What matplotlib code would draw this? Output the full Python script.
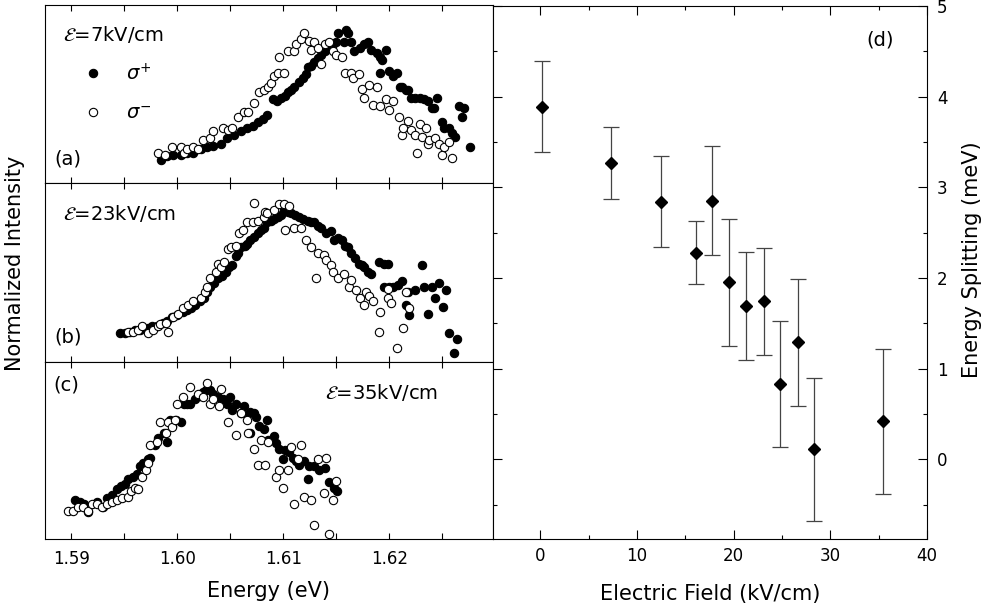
import matplotlib
matplotlib.use('Agg')
import matplotlib.pyplot as plt
from matplotlib.ticker import MultipleLocator, FormatStrFormatter

# ---- panel (a): E = 7 kV/cm ----
energy_a_plus = [1.5985, 1.5990, 1.5996, 1.6003, 1.6009, 1.6015, 1.6022, 1.6028, 1.6034, 1.6041,
                 1.6047, 1.6053, 1.6060, 1.6066, 1.6071, 1.6076, 1.6081, 1.6085, 1.6090, 1.6094,
                 1.6098, 1.6102, 1.6104, 1.6107, 1.6110, 1.6115, 1.6119, 1.6121, 1.6123, 1.6126,
                 1.6129, 1.6133, 1.6136, 1.6139, 1.6143, 1.6147, 1.6150, 1.6152, 1.6157, 1.6159,
                 1.6161, 1.6164, 1.6167, 1.6172, 1.6176, 1.6180, 1.6183, 1.6188, 1.6191, 1.6191,
                 1.6193, 1.6197, 1.6200, 1.6204, 1.6207, 1.6210, 1.6212, 1.6216, 1.6218, 1.6221,
                 1.6224, 1.6229, 1.6233, 1.6237, 1.6240, 1.6242, 1.6245, 1.6250, 1.6252, 1.6256,
                 1.6259, 1.6262, 1.6266, 1.6269, 1.6271, 1.6276]
int_a_plus = [0.13, 0.15, 0.16, 0.16, 0.17, 0.17, 0.19, 0.20, 0.21, 0.22,
              0.25, 0.27, 0.29, 0.31, 0.32, 0.34, 0.36, 0.38, 0.47, 0.46,
              0.48, 0.49, 0.51, 0.52, 0.54, 0.57, 0.59, 0.61, 0.65, 0.66,
              0.68, 0.70, 0.72, 0.74, 0.76, 0.78, 0.79, 0.84, 0.79, 0.86,
              0.84, 0.79, 0.74, 0.76, 0.78, 0.79, 0.75, 0.73, 0.71, 0.62,
              0.69, 0.75, 0.63, 0.60, 0.62, 0.54, 0.54, 0.52, 0.52, 0.48,
              0.48, 0.48, 0.47, 0.46, 0.42, 0.42, 0.48, 0.34, 0.31, 0.31,
              0.28, 0.26, 0.43, 0.37, 0.42, 0.20]
energy_a_minus = [1.5982, 1.5988, 1.5995, 1.6003, 1.6006, 1.6009, 1.6015, 1.6019, 1.6024, 1.6031,
                  1.6034, 1.6043, 1.6048, 1.6052, 1.6057, 1.6063, 1.6067, 1.6072, 1.6077, 1.6082,
                  1.6086, 1.6088, 1.6091, 1.6095, 1.6101, 1.6096, 1.6104, 1.6110, 1.6112, 1.6117,
                  1.6120, 1.6124, 1.6126, 1.6129, 1.6133, 1.6136, 1.6139, 1.6143, 1.6147, 1.6150,
                  1.6155, 1.6158, 1.6164, 1.6166, 1.6171, 1.6174, 1.6176, 1.6181, 1.6185, 1.6188,
                  1.6191, 1.6197, 1.6200, 1.6204, 1.6209, 1.6212, 1.6213, 1.6218, 1.6221, 1.6224,
                  1.6226, 1.6229, 1.6231, 1.6235, 1.6237, 1.6238, 1.6243, 1.6247, 1.6250, 1.6252,
                  1.6256, 1.6259]
int_a_minus = [0.17, 0.16, 0.20, 0.20, 0.17, 0.19, 0.20, 0.19, 0.24, 0.25,
               0.29, 0.31, 0.30, 0.31, 0.37, 0.40, 0.40, 0.45, 0.51, 0.52,
               0.54, 0.56, 0.60, 0.62, 0.62, 0.71, 0.74, 0.74, 0.78, 0.81,
               0.84, 0.80, 0.75, 0.79, 0.76, 0.67, 0.78, 0.79, 0.74, 0.72,
               0.71, 0.62, 0.62, 0.59, 0.61, 0.53, 0.48, 0.55, 0.44, 0.54,
               0.43, 0.47, 0.41, 0.46, 0.37, 0.27, 0.31, 0.35, 0.30, 0.27,
               0.17, 0.33, 0.26, 0.31, 0.22, 0.24, 0.25, 0.22, 0.16, 0.20,
               0.23, 0.14]

# ---- panel (b): E = 23 kV/cm ----
energy_b_plus = [1.5946, 1.5951, 1.5955, 1.5960, 1.5965, 1.5972, 1.5976, 1.5981, 1.5986, 1.5990,
                 1.5995, 1.6000, 1.6005, 1.6009, 1.6013, 1.6017, 1.6021, 1.6025, 1.6028, 1.6031,
                 1.6035, 1.6038, 1.6042, 1.6046, 1.6049, 1.6052, 1.6055, 1.6057, 1.6060, 1.6064,
                 1.6066, 1.6069, 1.6072, 1.6076, 1.6079, 1.6082, 1.6085, 1.6088, 1.6091, 1.6095,
                 1.6098, 1.6101, 1.6104, 1.6107, 1.6111, 1.6115, 1.6119, 1.6123, 1.6126, 1.6129,
                 1.6133, 1.6136, 1.6140, 1.6145, 1.6148, 1.6152, 1.6155, 1.6158, 1.6161, 1.6164,
                 1.6168, 1.6171, 1.6174, 1.6176, 1.6180, 1.6183, 1.6190, 1.6195, 1.6199, 1.6195,
                 1.6200, 1.6204, 1.6208, 1.6212, 1.6218, 1.6224, 1.6216, 1.6219, 1.6231, 1.6233,
                 1.6237, 1.6240, 1.6243, 1.6247, 1.6251, 1.6254, 1.6256, 1.6261, 1.6264]
int_b_plus = [0.16, 0.16, 0.17, 0.18, 0.18, 0.19, 0.20, 0.20, 0.22, 0.23,
              0.25, 0.26, 0.28, 0.29, 0.30, 0.32, 0.34, 0.36, 0.39, 0.42,
              0.44, 0.47, 0.48, 0.50, 0.53, 0.54, 0.59, 0.61, 0.64, 0.65,
              0.66, 0.68, 0.70, 0.72, 0.74, 0.75, 0.78, 0.79, 0.80, 0.81,
              0.82, 0.85, 0.84, 0.83, 0.82, 0.81, 0.80, 0.79, 0.78, 0.78,
              0.76, 0.75, 0.72, 0.73, 0.68, 0.69, 0.68, 0.65, 0.64, 0.61,
              0.58, 0.55, 0.54, 0.53, 0.50, 0.49, 0.56, 0.55, 0.55, 0.42,
              0.42, 0.42, 0.43, 0.45, 0.39, 0.40, 0.32, 0.26, 0.54, 0.42,
              0.27, 0.42, 0.36, 0.44, 0.31, 0.40, 0.16, 0.05, 0.13]
energy_b_minus = [1.5953, 1.5958, 1.5963, 1.5967, 1.5972, 1.5977, 1.5982, 1.5984, 1.5989, 1.5991,
                  1.5996, 1.6001, 1.6005, 1.6010, 1.6015, 1.6022, 1.6026, 1.6028, 1.6031, 1.6036,
                  1.6038, 1.6041, 1.6044, 1.6048, 1.6051, 1.6055, 1.6058, 1.6062, 1.6066, 1.6071,
                  1.6072, 1.6076, 1.6082, 1.6083, 1.6085, 1.6091, 1.6096, 1.6101, 1.6105, 1.6102,
                  1.6110, 1.6117, 1.6121, 1.6126, 1.6131, 1.6133, 1.6138, 1.6140, 1.6145, 1.6147,
                  1.6152, 1.6157, 1.6162, 1.6164, 1.6169, 1.6172, 1.6176, 1.6178, 1.6181, 1.6185,
                  1.6190, 1.6191, 1.6199, 1.6199, 1.6202, 1.6207, 1.6213, 1.6216, 1.6219]
int_b_minus = [0.17, 0.17, 0.18, 0.20, 0.16, 0.18, 0.20, 0.21, 0.22, 0.17,
               0.25, 0.27, 0.30, 0.32, 0.34, 0.36, 0.39, 0.42, 0.47, 0.50,
               0.55, 0.53, 0.56, 0.63, 0.64, 0.65, 0.72, 0.74, 0.78, 0.78,
               0.89, 0.79, 0.81, 0.84, 0.83, 0.85, 0.88, 0.88, 0.87, 0.74,
               0.75, 0.75, 0.68, 0.64, 0.47, 0.61, 0.60, 0.57, 0.54, 0.50,
               0.47, 0.49, 0.42, 0.46, 0.40, 0.36, 0.32, 0.39, 0.37, 0.34,
               0.17, 0.28, 0.36, 0.41, 0.33, 0.08, 0.19, 0.39, 0.30]

# ---- panel (c): E = 35 kV/cm ----
energy_c_plus = [1.5903, 1.5908, 1.5912, 1.5916, 1.5924, 1.5930, 1.5934, 1.5938, 1.5943, 1.5947,
                 1.5951, 1.5953, 1.5958, 1.5962, 1.5965, 1.5968, 1.5972, 1.5974, 1.5979, 1.5982,
                 1.5987, 1.5990, 1.5993, 1.5995, 1.5999, 1.6003, 1.6006, 1.6009, 1.6012, 1.6017,
                 1.6021, 1.6024, 1.6027, 1.6031, 1.6034, 1.6038, 1.6043, 1.6047, 1.6050, 1.6052,
                 1.6055, 1.6060, 1.6063, 1.6066, 1.6069, 1.6069, 1.6072, 1.6074, 1.6077, 1.6082,
                 1.6085, 1.6086, 1.6091, 1.6093, 1.6096, 1.6100, 1.6102, 1.6105, 1.6109, 1.6112,
                 1.6115, 1.6120, 1.6123, 1.6124, 1.6129, 1.6134, 1.6139, 1.6143, 1.6148, 1.6151]
int_c_plus = [0.22, 0.21, 0.20, 0.15, 0.21, 0.18, 0.23, 0.25, 0.28, 0.30,
              0.31, 0.34, 0.35, 0.37, 0.41, 0.43, 0.45, 0.46, 0.53, 0.57,
              0.60, 0.55, 0.67, 0.64, 0.67, 0.66, 0.76, 0.76, 0.76, 0.79,
              0.81, 0.83, 0.84, 0.84, 0.82, 0.80, 0.79, 0.76, 0.80, 0.73,
              0.76, 0.71, 0.75, 0.70, 0.72, 0.60, 0.71, 0.69, 0.64, 0.62,
              0.67, 0.56, 0.58, 0.54, 0.51, 0.45, 0.50, 0.49, 0.46, 0.44,
              0.42, 0.44, 0.34, 0.41, 0.41, 0.39, 0.40, 0.32, 0.29, 0.27]
energy_c_minus = [1.5897, 1.5901, 1.5906, 1.5911, 1.5916, 1.5919, 1.5924, 1.5929, 1.5934, 1.5938,
                  1.5943, 1.5948, 1.5953, 1.5956, 1.5960, 1.5963, 1.5967, 1.5970, 1.5972, 1.5974,
                  1.5981, 1.5984, 1.5989, 1.5991, 1.5995, 1.5998, 1.6000, 1.6005, 1.6012, 1.6019,
                  1.6024, 1.6028, 1.6031, 1.6034, 1.6039, 1.6041, 1.6048, 1.6055, 1.6060, 1.6066,
                  1.6067, 1.6072, 1.6076, 1.6079, 1.6083, 1.6086, 1.6093, 1.6096, 1.6100, 1.6104,
                  1.6107, 1.6110, 1.6114, 1.6117, 1.6120, 1.6126, 1.6129, 1.6133, 1.6138, 1.6140,
                  1.6143, 1.6147, 1.6150]
int_c_minus = [0.16, 0.16, 0.18, 0.18, 0.16, 0.20, 0.20, 0.18, 0.20, 0.21,
               0.22, 0.23, 0.24, 0.27, 0.29, 0.28, 0.35, 0.39, 0.43, 0.53,
               0.55, 0.66, 0.60, 0.66, 0.63, 0.67, 0.76, 0.80, 0.86, 0.82,
               0.80, 0.88, 0.76, 0.79, 0.75, 0.85, 0.66, 0.59, 0.71, 0.67,
               0.60, 0.51, 0.42, 0.56, 0.42, 0.55, 0.35, 0.39, 0.29, 0.39,
               0.52, 0.20, 0.45, 0.53, 0.24, 0.22, 0.08, 0.45, 0.26, 0.46,
               0.03, 0.22, 0.33]

# ---- panel (d): splitting vs field ----
field = [0.2, 7.3, 12.5, 16.1, 17.8, 19.5, 21.3, 23.1, 24.8, 26.6, 28.3, 35.4]
splitting = [3.89, 3.27, 2.84, 2.28, 2.85, 1.95, 1.69, 1.74, 0.83, 1.29, 0.11, 0.42]
split_err = [0.50, 0.40, 0.50, 0.35, 0.60, 0.70, 0.60, 0.59, 0.70, 0.70, 0.79, 0.80]

panels = [
    ('(a)', r'$\mathcal{E}$=7kV/cm', energy_a_plus, int_a_plus, energy_a_minus, int_a_minus),
    ('(b)', r'$\mathcal{E}$=23kV/cm', energy_b_plus, int_b_plus, energy_b_minus, int_b_minus),
    ('(c)', r'$\mathcal{E}$=35kV/cm', energy_c_plus, int_c_plus, energy_c_minus, int_c_minus),
]

plt.rcParams['font.family'] = ['DejaVu Sans']
plt.rcParams['mathtext.fontset'] = 'dejavusans'

fig = plt.figure(figsize=(9.95, 6.12), dpi=100)
left_boxes = [
    [0.0452, 0.7010, 0.4503, 0.2908],
    [0.0452, 0.4085, 0.4503, 0.2925],
    [0.0452, 0.1193, 0.4503, 0.2892],
]
ms = 6.0
axes = []
for i, (tag, field_txt, ep, ip, em, im) in enumerate(panels):
    ax = fig.add_axes(left_boxes[i])
    ax.plot(ep, ip, 'o', ms=ms, color='black', mec='black', mew=0.8, label=r'$\sigma^{+}$')
    ax.plot(em, im, 'o', ms=ms, mfc='white', mec='black', mew=0.8, label=r'$\sigma^{-}$')
    ax.set_xlim(1.5875, 1.6298)
    ax.set_ylim(0, 1)
    ax.set_yticks([])
    ax.xaxis.set_major_locator(MultipleLocator(0.01))
    ax.xaxis.set_minor_locator(MultipleLocator(0.005))
    ax.xaxis.set_major_formatter(FormatStrFormatter('%.2f'))
    ax.tick_params(axis='x', which='both', direction='in', top=True, bottom=True,
                   length=4, width=0.8, labelsize=12, pad=8)
    if i < 2:
        ax.tick_params(axis='x', labelbottom=False)
    for s in ax.spines.values():
        s.set_linewidth(0.8)
    axes.append(ax)

# panel texts
axes[0].text(0.04, 0.837, panels[0][1], transform=axes[0].transAxes, fontsize=14, va='center')
axes[0].text(0.022, 0.135, '(a)', transform=axes[0].transAxes, fontsize=14, va='center')
axes[1].text(0.04, 0.832, panels[1][1], transform=axes[1].transAxes, fontsize=14, va='center')
axes[1].text(0.022, 0.14, '(b)', transform=axes[1].transAxes, fontsize=14, va='center')
axes[2].text(0.625, 0.825, panels[2][1], transform=axes[2].transAxes, fontsize=14, va='center')
axes[2].text(0.018, 0.87, '(c)', transform=axes[2].transAxes, fontsize=14, va='center')

axes[0].legend(loc='center left', bbox_to_anchor=(0.085, 0.508), frameon=False,
               fontsize=14, handlelength=1.0, handletextpad=1.2, labelspacing=1.0,
               borderpad=0, borderaxespad=0)

axes[2].set_xlabel('Energy (eV)', fontsize=15, labelpad=9)
fig.text(15 / 995, (612 - 263) / 612, 'Normalized Intensity', rotation=90,
         ha='center', va='center', fontsize=15)

# right panel
axd = fig.add_axes([0.4955, 0.1193, 0.4362, 0.8709])
axd.errorbar(field, splitting, yerr=split_err, fmt='D', ms=6.2, color='black',
             ecolor='#444444', elinewidth=0.9, capsize=5.5, capthick=0.9)
axd.set_xlim(-4.9, 40)
axd.set_ylim(-0.88, 5.0)
axd.xaxis.set_major_locator(MultipleLocator(10))
axd.xaxis.set_minor_locator(MultipleLocator(5))
axd.yaxis.set_major_locator(MultipleLocator(1))
axd.yaxis.set_minor_locator(MultipleLocator(0.5))
axd.tick_params(axis='both', which='both', direction='in', top=True, bottom=True,
                left=True, right=True, labelleft=False, labelright=True, width=0.8)
axd.tick_params(axis='both', which='major', length=6.5, labelsize=12)
axd.tick_params(axis='both', which='minor', length=3)
axd.tick_params(axis='x', pad=5.5)
axd.tick_params(axis='y', pad=7)
for s in axd.spines.values():
    s.set_linewidth(0.8)
axd.text(0.892, 0.936, '(d)', transform=axd.transAxes, fontsize=14, ha='center', va='center')
axd.set_xlabel('Electric Field (kV/cm)', fontsize=15, labelpad=14)
fig.text(972 / 995, (612 - 260) / 612, 'Energy Splitting (meV)', rotation=90,
         ha='center', va='center', fontsize=15)

fig.savefig('out.png', dpi=100)
